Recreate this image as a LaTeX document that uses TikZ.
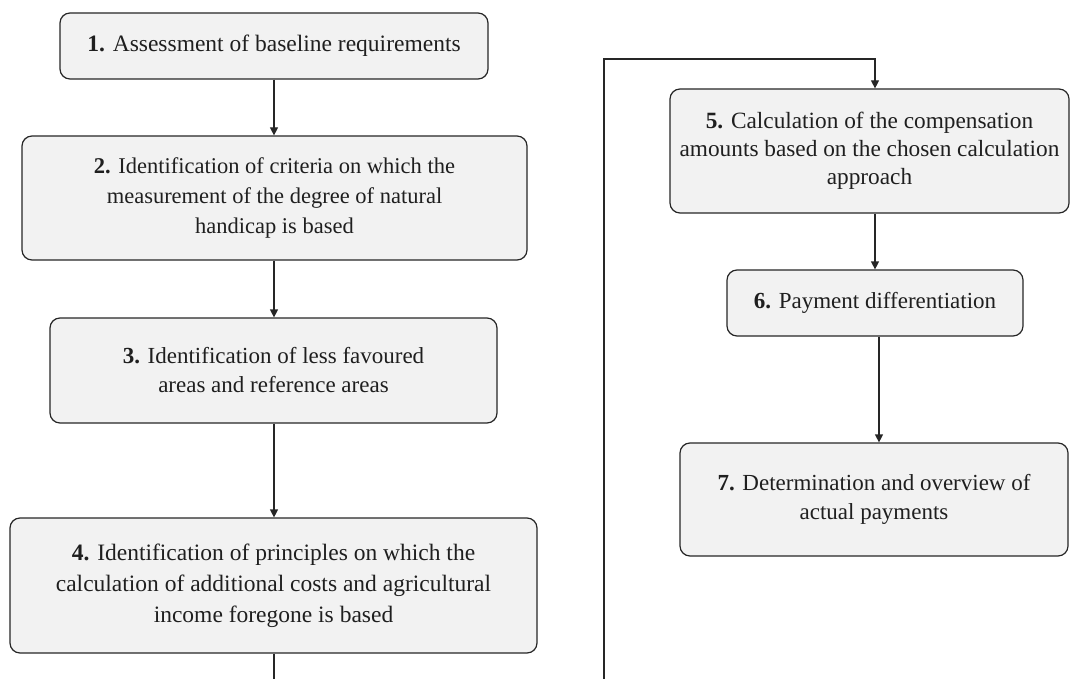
\documentclass[tikz,border=0pt]{standalone}
\usepackage{fontspec}
\setmainfont{Liberation Serif}
\usetikzlibrary{arrows.meta}
\begin{document}
\begin{tikzpicture}[x=1pt,y=-1pt,
  box/.style={draw=black!85, line width=1.2pt, fill=black!5, rounded corners=10pt,
    inner sep=0pt, align=center, text=black!88,
    font=\fontsize{23}{29}\selectfont},
  conn/.style={draw=black!85, line width=1.2pt},
  arr/.style={conn, -{Triangle[length=8pt,width=8pt]}}]
\useasboundingbox (0,0) rectangle (1070,679);
\node[box, minimum width=428, minimum height=66, font=\fontsize{23.5}{29}\selectfont] (n1) at (274,46)
  {\textbf{1.} Assessment of baseline requirements};
\node[box, minimum width=505, minimum height=124, font=\fontsize{22.5}{30}\selectfont] (n2) at (274.5,198)
  {\textbf{2.} Identification of criteria on which the\\measurement of the degree of natural\\handicap is based};
\node[box, minimum width=447, minimum height=105] (n3) at (273.5,370.5)
  {\textbf{3.} Identification of less favoured\\areas and reference areas};
\node[box, minimum width=527, minimum height=135, font=\fontsize{23.5}{31}\selectfont] (n4) at (273.5,585.5)
  {\textbf{4.} Identification of principles on which the\\calculation of additional costs and agricultural\\income foregone is based};
\node[box, minimum width=399, minimum height=124, font=\fontsize{23.3}{28}\selectfont] (n5) at (869.5,151)
  {\textbf{5.} Calculation of the compensation\\amounts based on the chosen calculation\\approach};
\node[box, minimum width=296, minimum height=66] (n6) at (875,303)
  {\textbf{6.} Payment differentiation};
\node[box, minimum width=388, minimum height=113] (n7) at (874,499.5)
  {\textbf{7.} Determination and overview of\\actual payments};
\coordinate (b4) at (274,679);
\coordinate (b5) at (604,679);
\coordinate (t5) at (604,59);
\coordinate (t6) at (875,59);
\draw[arr] (n1.south -| 274,0) -- (n2.north -| 274,0);
\draw[arr] (n2.south -| 274,0) -- (n3.north -| 274,0);
\draw[arr] (n3.south -| 274,0) -- (n4.north -| 274,0);
\draw[conn] (n4.south -| b4) -- (b4);
\draw[arr] (b5) -- (t5) -- (t6) -- (t6 |- n5.north);
\draw[arr] (n5.south -| t6) -- (n6.north -| t6);
\draw[arr] (n6.south -| 879,0) -- (n7.north -| 879,0);
\end{tikzpicture}
\end{document}
